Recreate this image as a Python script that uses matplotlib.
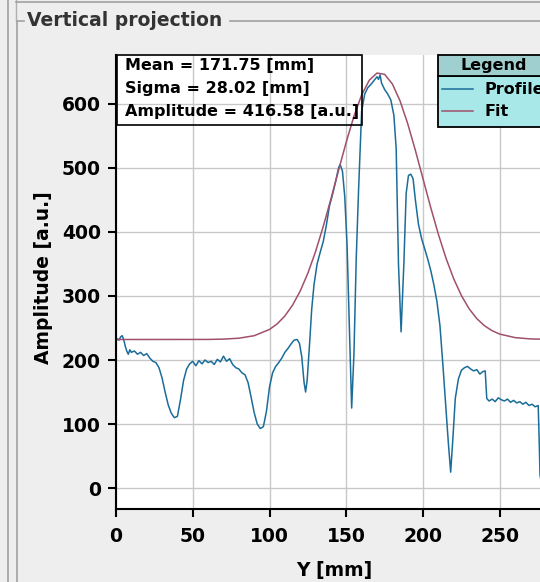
import matplotlib
matplotlib.use("Agg")
from matplotlib import pyplot as plt
from matplotlib.lines import Line2D
from matplotlib.patches import Rectangle

# profile (Y [mm], amplitude [a.u.])
profile_y = [0, 1, 2, 3, 4, 5, 6, 7, 8, 9, 10, 12, 14, 16, 18, 20, 22, 24, 26, 28,
             30, 32, 34, 36, 38, 40, 42, 44, 46, 48, 50, 52, 54, 56, 58, 60, 62, 64,
             66, 68, 70, 72, 74, 76, 78, 80, 82, 84, 86, 88, 90, 92, 94, 96, 98, 100,
             102, 104, 106, 108, 110, 112, 114, 116, 118, 119.5, 121, 122.5, 123.5,
             124.5, 126, 127.5, 129, 131, 133, 135, 137, 139, 141, 143, 145, 146,
             147.5, 149, 150.5, 152, 153.5, 155, 156.5, 158, 160, 162, 164, 166, 168,
             170, 171, 172, 173, 175, 177, 179, 181, 182.5, 184, 185.7, 187.5, 189,
             190.5, 192, 193.5, 195, 197, 199, 201, 203, 205, 207, 209, 211, 213, 215,
             216.5, 218, 219.5, 221, 223, 225, 227, 229, 231, 233, 235, 237, 239,
             240.5, 241.5, 243, 245, 247, 249, 251, 253, 255, 257, 259, 261, 263, 265,
             267, 269, 271, 273, 275, 275.6, 276.2, 277, 280]
profile_amp = [230, 233, 231, 236, 238, 232, 222, 214, 209, 216, 212, 214, 209, 212, 207,
               210, 203, 198, 196, 188, 172, 150, 130, 117, 110, 112, 138, 168, 186, 194,
               198, 191, 199, 194, 200, 196, 198, 193, 201, 197, 206, 198, 202, 193, 188,
               186, 180, 177, 165, 142, 118, 100, 93, 96, 120, 158, 180, 190, 196, 203,
               212, 218, 225, 231, 232, 226, 205, 165, 150, 168, 222, 280, 318, 350, 368,
               385, 410, 440, 458, 478, 500, 505, 495, 455, 380, 252, 125, 210, 360, 465,
               588, 615, 625, 630, 636, 642, 638, 645, 632, 622, 615, 606, 582, 530, 350,
               244, 350, 460, 488, 490, 483, 450, 412, 390, 374, 358, 340, 318, 292, 254,
               190, 120, 70, 25, 80, 140, 170, 184, 188, 190, 186, 183, 185, 178, 182,
               183, 140, 136, 139, 135, 141, 138, 136, 139, 134, 137, 133, 135, 131, 134,
               129, 131, 127, 129, 80, 20, 10, 10]

# fitted curve
fit_y = [0, 60, 70, 80, 90, 100, 105, 110, 115, 120, 125, 130, 135, 140, 145, 150, 155,
         160, 165, 170, 175, 180, 185, 190, 195, 200, 205, 210, 215, 220, 225, 230, 235,
         240, 245, 250, 260, 270, 285]
fit_amp = [232, 232.1, 232.6, 234.0, 237.9, 247.7, 256.4, 268.7, 285.6, 307.7, 335.6,
           369.3, 408.4, 451.3, 496.3, 540.3, 580.5, 613.6, 636.7, 647.8, 645.8, 630.9,
           604.5, 569.0, 527.2, 482.6, 438.0, 396.1, 358.6, 326.6, 300.5, 280.0, 264.6,
           253.5, 245.7, 240.4, 234.9, 232.9, 232.1]

stats = ["Mean = 171.75 [mm]", "Sigma = 28.02 [mm]", "Amplitude = 416.58 [a.u.]"]

W, H = 540, 582


def fx(px):
    return px / W


def fy(py):
    return 1 - py / H


fig = plt.figure(figsize=(W / 100, H / 100), dpi=100, facecolor="#eeeeee")

# panel frame (titled border)
frame = "#a0a0a0"
fig.add_artist(Line2D([fx(7.5), fx(7.5)], [0, 1], color=frame, lw=1.2))
fig.add_artist(Line2D([fx(15.5), fx(15.5)], [fy(0), fy(21)], color="#b0b0b0", lw=1.0))
fig.add_artist(Line2D([fx(15.5), fx(W)], [fy(1.5), fy(1.5)], color=frame, lw=1.2))
fig.add_artist(Line2D([fx(16.5), fx(16.5), fx(24)], [0, fy(21), fy(21)], color=frame, lw=1.2))
fig.add_artist(Line2D([fx(230), fx(W)], [fy(21), fy(21)], color=frame, lw=1.2))
fig.text(fx(27), fy(21), "Vertical projection", fontsize=13.5, fontweight="bold",
         color="#333333", ha="left", va="center")

ax = fig.add_axes([fx(116), fy(509.3), (552 - 116) / W, (509.3 - 55) / H])
ax.set_facecolor("white")
ax.plot(profile_y, profile_amp, color="#1b6d99", lw=1.1)
ax.plot(fit_y, fit_amp, color="#a0506c", lw=1.1)
ax.set_xlim(0, 284)
ax.set_ylim(-33, 676)
ax.set_xticks([0, 50, 100, 150, 200, 250])
ax.set_yticks([0, 100, 200, 300, 400, 500, 600])
ax.grid(True, color="#c8c8c8", lw=1.0)
ax.set_axisbelow(True)
for side in ["top", "right"]:
    ax.spines[side].set_visible(False)
for side in ["left", "bottom"]:
    ax.spines[side].set_linewidth(1.5)
ax.tick_params(axis="both", length=6, width=1.5, labelsize=13.5)
ax.tick_params(axis="x", pad=7)
ax.tick_params(axis="y", pad=5)
for lab in ax.get_xticklabels() + ax.get_yticklabels():
    lab.set_fontweight("bold")
ax.set_xlabel("Y [mm]", fontsize=13.5, fontweight="bold")
ax.set_ylabel("Amplitude [a.u.]", fontsize=13.5, fontweight="bold")
ax.xaxis.set_label_coords(0.5, -0.114)
ax.yaxis.set_label_coords(-0.1445, 0.51)

# statistics box
fig.add_artist(Rectangle((fx(116.7), fy(125)), (362 - 116.7) / W, 70 / H, fill=False,
                         edgecolor="black", lw=1.2, transform=fig.transFigure))
for i, s in enumerate(stats):
    fig.text(fx(125), fy(65.5 + 23 * i), s, fontsize=11.5, fontweight="bold",
             ha="left", va="center")

# legend box
fig.add_artist(Rectangle((fx(438), fy(127)), (560 - 438) / W, 51 / H, facecolor="#a8e8e8",
                         edgecolor="black", lw=1.3, transform=fig.transFigure))
fig.add_artist(Rectangle((fx(438), fy(76)), (560 - 438) / W, 21 / H, facecolor="#9fcfcf",
                         edgecolor="black", lw=1.3, transform=fig.transFigure))
fig.text(fx(494), fy(65.5), "Legend", fontsize=11.5, fontweight="bold", ha="center", va="center")
fig.add_artist(Line2D([fx(442), fx(473)], [fy(89), fy(89)], color="#1b6d99", lw=1.1))
fig.add_artist(Line2D([fx(442), fx(473)], [fy(111), fy(111)], color="#a0506c", lw=1.1))
fig.text(fx(485), fy(89), "Profile", fontsize=11.5, fontweight="bold", ha="left", va="center")
fig.text(fx(485), fy(111), "Fit", fontsize=11.5, fontweight="bold", ha="left", va="center")

fig.savefig("out.png", dpi=100, facecolor=fig.get_facecolor())
